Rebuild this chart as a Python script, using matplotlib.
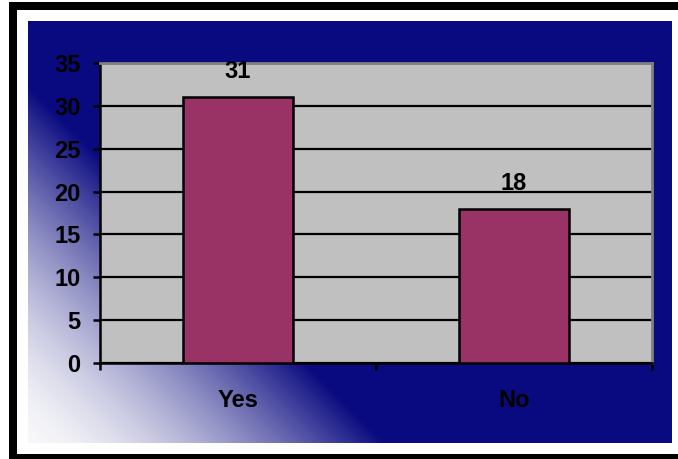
"""Bar chart of Yes/No answer counts on a gradient panel."""

import matplotlib
matplotlib.use("Agg")
import matplotlib.pyplot as plt
import numpy as np
from matplotlib.patches import Rectangle

categories = ["Yes", "No"]
counts = [31, 18]
y_ticks = [0, 5, 10, 15, 20, 25, 30, 35]

NAVY = np.array([10, 10, 128]) / 255.0
WHITE = np.array([248, 248, 250]) / 255.0
W, H = 678, 459

plt.rcParams["font.family"] = ["Liberation Sans", "DejaVu Sans"]
plt.rcParams["font.weight"] = "bold"

fig = plt.figure(figsize=(W / 100, H / 100), dpi=100)
fig.patch.set_facecolor("white")


def px_box(x0, y0, x1, y1):
    # pixel box (top-left origin) -> figure fraction rect
    return [x0 / W, 1 - y1 / H, (x1 - x0) / W, (y1 - y0) / H]


# black frame bands
for x0, y0, x1, y1 in [(9, 2, W, 10), (9, 2, 17, 459), (9, 454, W, 459)]:
    l, b, w, h = px_box(x0, y0, x1, y1)
    fig.patches.append(Rectangle((l, b), w, h, transform=fig.transFigure,
                                 facecolor="black", edgecolor="none", zorder=0))

# diagonal white-to-navy gradient panel
gx0, gy0, gx1, gy1 = 28, 21, 672, 443
bg = fig.add_axes(px_box(gx0, gy0, gx1, gy1), zorder=0)
xs = np.arange(gx1 - gx0)
ys = np.arange(gy1 - gy0)
X, Y = np.meshgrid(xs, ys)
d = X + (gy1 - gy0 - Y)
t = (np.clip(d / 357.0, 0, 1) ** 1.6)[..., None]
t[d >= 357] = 1.0
img = WHITE * (1 - t) + NAVY * t
bg.imshow(img, aspect="auto", interpolation="bilinear")
bg.axis("off")

ax = fig.add_axes(px_box(100, 63, 652, 363), zorder=1)
ax.set_facecolor("#c0c0c0")
pos = np.arange(len(categories))
ax.bar(pos, counts, width=0.4, color="#993366", edgecolor="black", linewidth=1.8, zorder=3)
for p, v in zip(pos, counts):
    ax.annotate(str(v), (p, v), xytext=(0, 10), textcoords="offset points",
                ha="center", va="bottom", fontsize=17, fontweight="bold")

ax.set_xlim(-0.5, len(categories) - 0.5)
ax.set_ylim(0, 35)
ax.set_yticks(y_ticks)
ax.set_yticklabels([str(v) for v in y_ticks], fontsize=17, fontweight="bold")
ax.yaxis.grid(True, color="black", linewidth=1.6)
ax.set_axisbelow(True)
ax.tick_params(axis="y", direction="out", length=5, width=1.8, pad=9, colors="black")

ax.set_xticks(pos)
ax.set_xticklabels(categories, fontsize=17, fontweight="bold")
ax.set_xticks(np.arange(len(categories) + 1) - 0.5, minor=True)
ax.tick_params(axis="x", which="major", length=0, pad=19)
ax.tick_params(axis="x", which="minor", direction="out", length=5, width=1.8)

for side in ("left", "bottom"):
    ax.spines[side].set_color("black")
    ax.spines[side].set_linewidth(1.8)
for side in ("top", "right"):
    ax.spines[side].set_color("#808080")
    ax.spines[side].set_linewidth(2)

fig.savefig("out.png", dpi=100)
